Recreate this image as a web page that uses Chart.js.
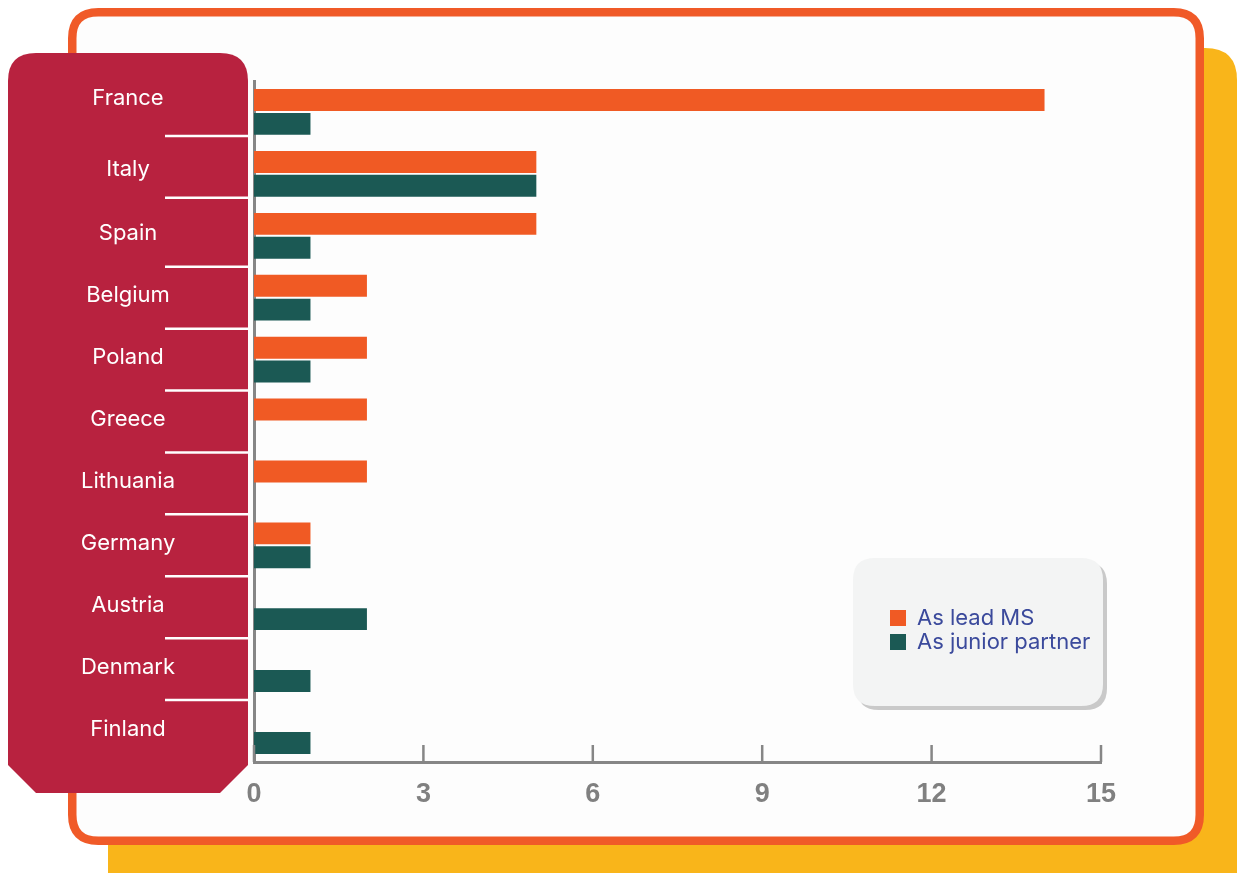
<!DOCTYPE html>
<html>
<head>
<meta charset="utf-8">
<script src="https://cdn.jsdelivr.net/npm/chart.js@4.4.0/dist/chart.umd.min.js"></script>
<style>
html,body{margin:0;padding:0;background:#ffffff;}
canvas{display:block;}
</style>
</head>
<body>
<canvas id="c" width="1239" height="873"></canvas>
<script>
const categories = ['France','Italy','Spain','Belgium','Poland','Greece','Lithuania','Germany','Austria','Denmark','Finland'];
const leadMS = [14,5,5,2,2,2,2,1,0,0,0];
const juniorPartner = [1,5,1,1,1,0,0,1,2,1,1];
const seriesLabels = ['As lead MS','As junior partner'];
const seriesColors = ['#F05A24','#1B5954'];
const xMin = 0, xMax = 15, xStep = 3;

function rr(ctx, x, y, w, h, r) {
  ctx.beginPath();
  ctx.moveTo(x + r, y);
  ctx.lineTo(x + w - r, y);
  ctx.quadraticCurveTo(x + w, y, x + w, y + r);
  ctx.lineTo(x + w, y + h - r);
  ctx.quadraticCurveTo(x + w, y + h, x + w - r, y + h);
  ctx.lineTo(x + r, y + h);
  ctx.quadraticCurveTo(x, y + h, x, y + h - r);
  ctx.lineTo(x, y + r);
  ctx.quadraticCurveTo(x, y, x + r, y);
  ctx.closePath();
}

const decor = {
  id: 'decor',
  beforeDraw(chart) {
    const ctx = chart.ctx;
    ctx.save();
    ctx.fillStyle = '#ffffff';
    ctx.fillRect(0, 0, chart.width, chart.height);
    ctx.fillStyle = '#F9B51A';
    rr(ctx, 108, 48, 1129, 860, 32);
    ctx.fill();
    ctx.fillStyle = '#FDFDFD';
    rr(ctx, 72.25, 12.25, 1127.5, 828.5, 26);
    ctx.fill();
    ctx.strokeStyle = '#F05A28';
    ctx.lineWidth = 8.5;
    ctx.stroke();
    ctx.fillStyle = '#B8223F';
    const L = 8, R = 248, T = 53, B = 793, r = 28, cut = 28;
    ctx.beginPath();
    ctx.moveTo(L + r, T);
    ctx.lineTo(R - r, T);
    ctx.quadraticCurveTo(R, T, R, T + r);
    ctx.lineTo(R, B - cut);
    ctx.lineTo(R - cut, B);
    ctx.lineTo(L + cut, B);
    ctx.lineTo(L, B - cut);
    ctx.lineTo(L, T + r);
    ctx.quadraticCurveTo(L, T, L + r, T);
    ctx.closePath();
    ctx.fill();
    const ys = chart.scales.y;
    const labels = ys.getLabels();
    ctx.strokeStyle = '#ffffff';
    ctx.lineWidth = 2.5;
    for (let i = 0; i < labels.length - 1; i++) {
      let yb = (ys.getPixelForValue(i) + ys.getPixelForValue(i + 1)) / 2;
      if (i < 2) yb -= 7;
      ctx.beginPath();
      ctx.moveTo(165, yb);
      ctx.lineTo(248, yb);
      ctx.stroke();
    }
    ctx.fillStyle = '#ffffff';
    ctx.font = '400 22px Inter, "Noto Sans", sans-serif';
    ctx.textAlign = 'center';
    ctx.textBaseline = 'middle';
    labels.forEach((lab, i) => {
      const dy = i === 0 ? -14 : (i === 1 ? -4 : -2);
      ctx.fillText(lab, 128, ys.getPixelForValue(i) + dy);
    });
    ctx.restore();
  },
  afterDatasetsDraw(chart) {
    const ctx = chart.ctx;
    const xs = chart.scales.x;
    const ca = chart.chartArea;
    ctx.save();
    ctx.strokeStyle = '#868686';
    ctx.lineWidth = 2.5;
    xs.ticks.forEach(t => {
      const x = xs.getPixelForValue(t.value);
      ctx.beginPath();
      ctx.moveTo(x, ca.bottom - 17);
      ctx.lineTo(x, ca.bottom);
      ctx.stroke();
    });
    ctx.fillStyle = '#C9C9C9';
    rr(ctx, 857, 562, 250, 148, 22);
    ctx.fill();
    ctx.fillStyle = '#F3F4F4';
    rr(ctx, 853, 558, 250, 148, 22);
    ctx.fill();
    ctx.font = '400 22px Inter, "Noto Sans", sans-serif';
    ctx.textAlign = 'left';
    ctx.textBaseline = 'middle';
    chart.data.datasets.forEach((ds, i) => {
      const y = 618 + i * 24;
      ctx.fillStyle = ds.backgroundColor;
      ctx.fillRect(890, y - 8, 16, 16);
      ctx.fillStyle = '#3B4A9C';
      ctx.fillText(ds.label, 917, y);
    });
    ctx.restore();
  }
};

new Chart(document.getElementById('c'), {
  type: 'bar',
  data: {
    labels: categories,
    datasets: [
      { label: seriesLabels[0], data: leadMS, backgroundColor: seriesColors[0], barPercentage: 0.92, categoryPercentage: 0.77 },
      { label: seriesLabels[1], data: juniorPartner, backgroundColor: seriesColors[1], barPercentage: 0.92, categoryPercentage: 0.77 }
    ]
  },
  options: {
    indexAxis: 'y',
    responsive: false,
    animation: false,
    devicePixelRatio: 1,
    layout: { padding: { top: 81, right: 138, left: 0, bottom: 0 } },
    plugins: { legend: { display: false }, tooltip: { enabled: false } },
    scales: {
      x: {
        min: xMin, max: xMax,
        ticks: { stepSize: xStep, color: '#808080', padding: 16,
          font: { family: '"Liberation Sans Narrow", "Liberation Sans", Arial, sans-serif', weight: 'bold', size: 27 } },
        grid: { display: false, drawTicks: false },
        border: { display: true, color: '#868686', width: 3 },
        afterFit: s => { s.height = 111; }
      },
      y: {
        ticks: { display: false },
        grid: { display: false, drawTicks: false },
        border: { display: true, color: '#868686', width: 3 },
        afterFit: s => { s.width = 254; }
      }
    }
  },
  plugins: [decor]
});
</script>
</body>
</html>
